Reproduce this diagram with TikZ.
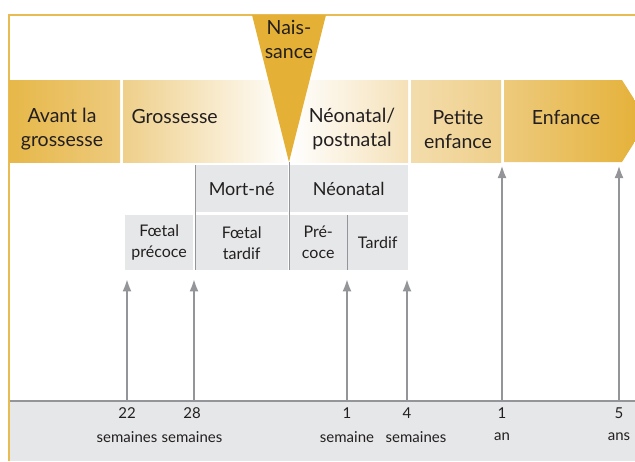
\documentclass[tikz,border=0pt]{standalone}
\usepackage{fontspec}
\setmainfont{Lato}
\usetikzlibrary{arrows.meta, positioning}
\definecolor{gold}{HTML}{E4B035}
\definecolor{palegold}{HTML}{EDCA7D}
\definecolor{cream}{HTML}{F5E1B8}
\definecolor{boxgray}{HTML}{E6E7E8}
\definecolor{linegray}{HTML}{939598}
\definecolor{ink}{HTML}{231F20}

\begin{document}
\begin{tikzpicture}[x=1pt,y=-1pt,
    bandtxt/.style={text=ink,align=center,font=\fontsize{19.5}{24}\selectfont},
    graybox/.style={fill=boxgray,anchor=north west,inner sep=0pt,text=ink,align=center},
    bigbox/.style={graybox,minimum height=47pt,font=\fontsize{18}{22}\selectfont},
    smallbox/.style={graybox,minimum height=55pt,font=\fontsize{16}{21}\selectfont},
    divider/.style={linegray,line width=1pt},
    tip/.style={linegray,line width=2.6pt,-{Latex[length=13pt,width=9pt]}},
    ticktxt/.style={text=ink,font=\fontsize{15}{18}\selectfont}]
  \useasboundingbox (0,0) rectangle (635,461);

  % frame and time axis
  \draw[gold!85,line width=1.2pt] (9,461) -- (9,15) -- (635,15);
  \fill[boxgray] (9.6,401) rectangle (635,461);
  \draw[linegray,line width=1.5pt] (9.6,401) -- (635,401);

  % periods
  \shade[left color=gold!90,right color=palegold] (9.6,80) rectangle (120,162);
  \shade[left color=palegold!90,right color=white] (123,80) rectangle (290,162);
  \shade[left color=white,right color=cream] (290,80) rectangle (408,162);
  \shade[left color=cream!80!palegold,right color=palegold!90] (411,80) rectangle (501,162);
  \shade[left color=palegold,right color=gold] (504,80) -- (622,80) -- (648,121)
    -- (622,162) -- (504,162) -- cycle;
  \fill[gold] (252,15) -- (326,15) -- (289,162) -- cycle;

  \node[bandtxt] (avant) at (62,129) {Avant la\\grossesse};
  \node[bandtxt,anchor=west] (grossesse) at (128,117) {Grossesse};
  \node[bandtxt] (neonatal) at (352,129) {Néonatal/\\postnatal};
  \node[bandtxt] (petite) at (458,129) {Petite\\enfance};
  \node[bandtxt] (enfance) at (566,117) {Enfance};
  \node[bandtxt] (naissance) at (289,39) {Nais-\\sance};

  % mortality boxes
  \node[bigbox,minimum width=93pt] (mortne) at (195,165) {Mort-né};
  \node[bigbox,minimum width=119pt] (neo) at (289,165) {Néonatal};
  \node[smallbox,minimum width=68pt] (fprecoce) at (125,215) {Fœtal\\précoce};
  \node[smallbox,minimum width=93pt] (ftardif) at (195,215) {Fœtal\\tardif};
  \node[smallbox,minimum width=58pt] (precoce) at (289,215) {Pré-\\coce};
  \node[smallbox,minimum width=61pt] (tardif) at (347,215) {Tardif};
  \draw[divider] (mortne.north west) -- (ftardif.south west);
  \draw[divider] (289,162) -- (precoce.south west);
  \draw[divider] (tardif.north west) -- (tardif.south west);

  % ages
  \coordinate (t22) at (127,401);
  \coordinate (t28) at (194,401);
  \coordinate (s1) at (347,401);
  \coordinate (s4) at (407,401);
  \coordinate (a1) at (502,401);
  \coordinate (a5) at (619,401);
  \draw[tip,shorten >=8pt] (t22) -- (t22 |- fprecoce.south);
  \draw[tip,shorten >=8pt] (t28) -- (t28 |- ftardif.south);
  \draw[tip,shorten >=8pt] (s1) -- (s1 |- precoce.south);
  \draw[tip,shorten >=8pt] (s4) -- (s4 |- tardif.south);
  \draw[tip,shorten >=3pt] (a1) -- (a1 |- 0,162);
  \draw[tip,shorten >=3pt] (a5) -- (a5 |- 0,162);

  \node[ticktxt] at (127,413) {22};
  \node[ticktxt] at (127,437) {semaines};
  \node[ticktxt] at (192,413) {28};
  \node[ticktxt] at (192,437) {semaines};
  \node[ticktxt] at (347,413) {1};
  \node[ticktxt] at (347,437) {semaine};
  \node[ticktxt] at (407,413) {4};
  \node[ticktxt] at (416,437) {semaines};
  \node[ticktxt] at (502,413) {1};
  \node[ticktxt] at (502,437) {an};
  \node[ticktxt] at (619,413) {5};
  \node[ticktxt] at (619,437) {ans};
\end{tikzpicture}
\end{document}
